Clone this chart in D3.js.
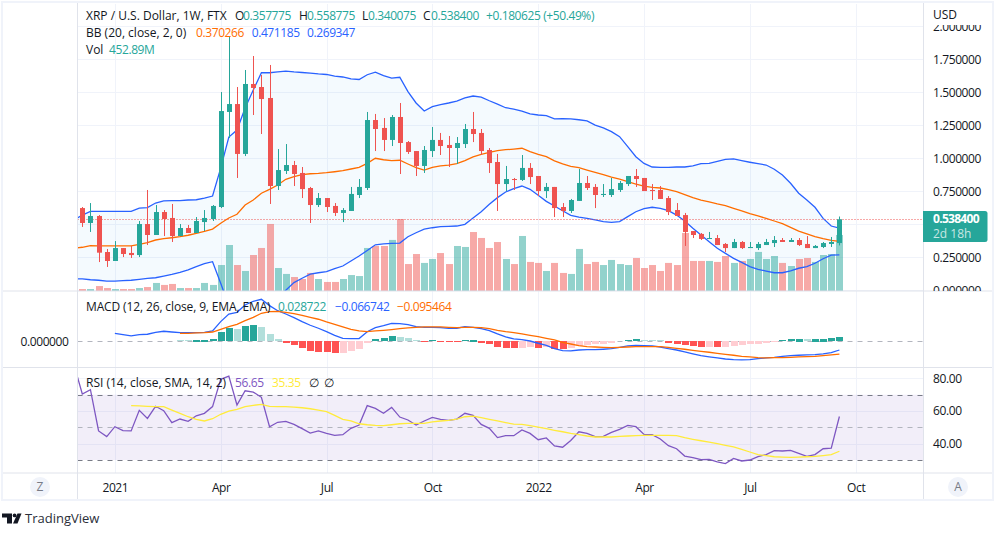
<!DOCTYPE html>
<html>
<head>
<meta charset="utf-8">
<script src="https://cdn.jsdelivr.net/npm/d3@7"></script>
<style>
  html, body { margin: 0; padding: 0; background: #fff; }
  svg { display: block; }
  text { font-family: "Open Sans", sans-serif; font-size: 12px; fill: #131722; }
  .axis path, .axis line { display: none; }
  .axis text { font-family: "Open Sans", sans-serif; font-size: 12px; fill: #131722; letter-spacing: -.4px; }
  .num { letter-spacing: -.4px; }
</style>
</head>
<body>
<div id="chart"></div>
<script>
// weekly candles, index 0 is the first full candle in view
let open = [.623,.510,.563,.290,.222,.320,.283,.267,.502,.419,.593,.548,.411,.472,.434,.517,.540,.631,1.351,1.411,1.033,1.563,1.540,1.457,.790,.904,.949,.889,.775,.646,.699,.639,.586,.601,.722,.775,1.290,1.230,1.139,1.313,1.123,1.055,.942,1.055,1.139,1.101,1.078,1.108,1.222,1.192,1.063,.972,.805,.843,.836,.927,.866,.752,.783,.631,.601,.677,.813,.783,.722,.722,.760,.805,.866,.851,.760,.760,.699,.608,.570,.449,.427,.389,.396,.351,.320,.366,.320,.320,.343,.358,.381,.366,.381,.351,.320,.328,.351,.358];
let high = [.631,.661,.570,.313,.373,.320,.336,.525,.760,.646,.608,.654,.502,.495,.555,.608,.646,1.502,1.926,1.540,1.669,1.775,1.631,1.707,1.070,1.108,.980,.934,.783,.737,.699,.661,.623,.783,.843,1.351,1.336,1.305,1.328,1.419,1.131,1.055,1.093,1.237,1.192,1.169,1.161,1.260,1.351,1.222,1.078,1.033,.942,.851,1.025,.964,.866,.813,.783,.661,.692,.919,.866,.805,.805,.851,.828,.866,.919,.851,.805,.790,.714,.661,.586,.449,.434,.442,.419,.358,.389,.373,.366,.366,.389,.411,.396,.396,.396,.411,.343,.366,.404,.559];
let low = [.480,.442,.214,.177,.222,.252,.245,.252,.343,.419,.411,.366,.411,.434,.434,.449,.525,.623,1.154,.851,1.017,1.328,1.184,.654,.760,.881,.790,.699,.510,.631,.593,.563,.517,.601,.699,.760,1.055,1.055,1.093,.881,1.033,.866,.889,1.010,1.025,.934,.957,1.078,1.123,1.025,.889,.601,.752,.760,.828,.805,.714,.699,.555,.555,.586,.677,.760,.623,.707,.707,.745,.790,.783,.752,.684,.692,.570,.563,.336,.396,.381,.389,.343,.290,.320,.313,.320,.305,.343,.328,.366,.366,.336,.320,.320,.320,.328,.340];
let close = [.510,.563,.285,.222,.320,.275,.267,.502,.419,.593,.540,.411,.472,.434,.525,.548,.639,1.358,1.411,1.033,1.563,1.533,1.449,.790,.911,.949,.881,.767,.646,.699,.631,.586,.608,.730,.783,1.290,1.222,1.139,1.313,1.116,1.048,.942,1.063,1.139,1.093,1.078,1.116,1.222,1.184,1.055,.964,.805,.843,.836,.927,.858,.752,.783,.623,.601,.684,.813,.775,.722,.730,.767,.813,.866,.843,.752,.752,.692,.593,.563,.442,.419,.389,.396,.343,.320,.366,.320,.328,.351,.366,.381,.366,.381,.343,.320,.336,.358,.366,.538];

// volume in millions
let volume = [16,16,40,24,16,16,16,24,32,65,49,57,24,24,24,65,49,210,372,210,162,291,348,542,186,138,113,97,146,97,73,73,97,129,121,348,364,364,413,582,218,299,227,259,307,218,364,356,477,429,348,396,259,218,445,235,227,162,227,146,138,340,218,235,210,251,218,210,267,186,210,162,227,210,469,243,243,243,235,283,227,243,259,316,259,283,227,202,259,267,235,291,299,453];

// bollinger bands, these start one week before the first candle
let bbUpper = [.533,.570,.598,.598,.598,.598,.598,.598,.623,.626,.661,.677,.679,.679,.684,.686,.699,.714,.926,1.161,1.214,1.381,1.517,1.648,1.648,1.654,1.661,1.654,1.650,1.646,1.639,1.635,1.623,1.616,1.601,1.597,1.633,1.652,1.626,1.608,1.614,1.505,1.419,1.358,1.391,1.406,1.419,1.434,1.457,1.472,1.464,1.436,1.411,1.383,1.373,1.358,1.336,1.328,1.323,1.298,1.300,1.298,1.292,1.283,1.252,1.230,1.202,1.164,1.088,1.012,.961,.934,.932,.932,.934,.934,.942,.959,.962,.977,.992,.995,.982,.970,.959,.949,.917,.873,.811,.735,.684,.629,.545,.487,.471];
let bbMiddle = [.318,.326,.338,.336,.336,.336,.336,.336,.348,.361,.381,.391,.398,.406,.417,.432,.447,.464,.508,.548,.576,.646,.684,.735,.765,.798,.841,.861,.876,.883,.886,.891,.898,.906,.919,.932,.962,1.000,.989,.982,.985,.957,.929,.911,.932,.942,.949,.959,.982,1.010,1.030,1.045,1.058,1.065,1.070,1.076,1.050,1.030,1.012,.980,.957,.939,.929,.911,.894,.876,.858,.843,.823,.805,.790,.780,.775,.762,.747,.724,.702,.684,.669,.654,.641,.621,.601,.580,.563,.545,.525,.505,.477,.449,.427,.406,.391,.379,.370];
let bbLower = [.088,.086,.080,.076,.070,.070,.073,.076,.083,.091,.095,.108,.121,.136,.154,.179,.202,.217,.053,-.117,-.160,-.090,-.150,-.178,-.118,-.058,.000,.058,.091,.123,.133,.141,.164,.184,.222,.260,.302,.345,.351,.356,.358,.406,.436,.464,.474,.482,.485,.487,.500,.548,.595,.652,.702,.745,.770,.790,.765,.720,.674,.639,.603,.568,.555,.545,.533,.520,.515,.520,.558,.595,.618,.629,.621,.603,.570,.525,.470,.419,.368,.318,.280,.242,.212,.179,.159,.146,.133,.133,.148,.167,.179,.205,.239,.267,.269];

// macd line starts at candle 4, signal and histogram at candle 12
let macdLine = [.053,.044,.036,.044,.047,.060,.067,.062,.058,.058,.058,.060,.069,.131,.182,.193,.242,.267,.280,.238,.204,.182,.158,.131,.107,.087,.064,.040,.020,.018,.018,.064,.091,.104,.120,.118,.111,.098,.093,.093,.091,.087,.087,.098,.093,.084,.071,.049,.029,.016,.011,.002,-.013,-.027,-.049,-.062,-.064,-.058,-.056,-.056,-.053,-.049,-.040,-.031,-.027,-.029,-.031,-.038,-.049,-.058,-.071,-.084,-.096,-.104,-.111,-.118,-.122,-.124,-.122,-.116,-.111,-.107,-.100,-.096,-.093,-.091,-.089,-.084,-.076,-.058];
let macdSignal = [.053,.053,.056,.058,.062,.080,.098,.113,.138,.160,.187,.198,.200,.193,.184,.173,.160,.147,.129,.113,.096,.080,.069,.064,.069,.073,.078,.084,.089,.093,.096,.096,.096,.093,.091,.093,.093,.091,.084,.073,.064,.058,.049,.040,.031,.020,.009,-.007,-.018,-.029,-.036,-.038,-.040,-.042,-.040,-.038,-.036,-.036,-.036,-.036,-.040,-.047,-.053,-.060,-.067,-.073,-.080,-.087,-.093,-.100,-.104,-.109,-.111,-.109,-.109,-.107,-.104,-.102,-.100,-.096,-.091,-.085];
let macdHist = [.009,.008,.010,.011,.016,.062,.089,.082,.102,.109,.096,.049,.016,-.011,-.024,-.044,-.064,-.071,-.072,-.078,-.077,-.064,-.051,-.011,.016,.022,.036,.029,.022,.009,-.004,.006,-.004,-.0045,-.005,.009,.010,-.011,-.018,-.038,-.044,-.045,-.044,-.038,-.044,-.043,-.051,-.052,-.044,-.031,-.024,-.023,-.018,-.011,.000,.009,.016,.009,.008,.007,-.011,-.018,-.024,-.031,-.038,-.037,-.038,-.037,-.031,-.024,-.023,-.018,-.011,-.004,.009,.016,.017,.016,.017,.018,.022,.029];

// rsi starts one week before the first candle, its average at candle 6
let rsi = [88.0,70.4,73.1,47.8,44.3,50.4,48.0,47.8,60.4,55.5,62.9,60.2,52.9,55.1,53.7,57.1,58.6,62.7,79.4,81.4,63.7,72.4,71.6,68.4,50.4,53.1,53.7,51.8,49.2,46.5,47.8,46.3,45.1,45.5,49.4,51.4,63.3,61.6,58.6,62.2,56.3,54.5,51.4,53.9,56.1,54.9,54.3,55.1,58.6,57.3,51.8,49.4,43.7,44.9,44.9,48.4,46.3,42.4,43.5,38.6,37.8,42.0,47.3,46.3,44.3,44.5,46.9,48.8,51.2,50.4,45.7,45.5,42.9,38.8,36.9,32.4,31.4,30.2,30.4,28.8,27.8,31.0,29.4,30.0,32.0,33.3,35.7,35.5,35.9,34.1,32.2,33.3,36.9,37.3,56.65];
let rsiMa = [63.3,63.1,62.9,62.7,62.7,60.6,58.6,56.5,54.9,53.9,55.3,58.0,60.0,61.0,62.7,63.5,64.1,62.9,62.7,62.7,62.4,62.0,61.4,60.6,59.6,57.3,54.9,53.9,52.2,51.6,51.2,51.0,51.6,52.2,52.4,52.4,52.4,53.3,53.9,54.3,55.1,56.5,56.9,55.9,54.9,53.9,52.9,52.0,51.8,51.0,50.2,49.2,48.2,47.3,46.3,45.5,44.7,44.1,44.1,44.1,44.5,44.7,44.9,45.1,45.1,45.1,45.1,44.9,43.7,42.7,41.8,41.0,40.0,39.0,38.0,36.5,34.9,33.3,32.7,32.0,31.8,31.6,31.8,32.0,32.2,32.7,33.3,35.35];

// axis ticks
let timeTicks = [4, 17, 30, 43, 56, 69, 82, 95];
let timeLabels = ['2021', 'Apr', 'Jul', 'Oct', '2022', 'Apr', 'Jul', 'Oct'];
let priceTicks = [0, .25, .5, .75, 1, 1.25, 1.5, 1.75, 2];
let priceLabelTicks = [0, .25, .75, 1, 1.25, 1.5, 1.75, 2];
let rsiTicks = [40, 60, 80];
let rsiGuides = [30, 50, 70];
let lastPrice = .5384;

let teal = '#26a69a', red = '#ef5350', blue = '#2962ff', orange = '#ff6d00';
let purple = '#7e57c2', yellow = '#ffeb3b', gridColor = '#f0f3fa', lineColor = '#e0e3eb';

let config = {
    left: 77.5, right: 923, axisRight: 993,
    main: { top: 4, bottom: 291 },
    macd: { top: 291, bottom: 367.5 },
    rsi: { top: 367.5, bottom: 473 }
};

let svg = d3.select('#chart').append('svg')
    .attr('width', 1003)
    .attr('height', 536);

// scales
let x = d3.scaleLinear().domain([0, 93]).range([82.3, 839.4]);
let yPrice = d3.scaleLinear().domain([0, 1.75]).range([290.3, 59.3]);
let yVol = d3.scaleLinear().domain([0, 452.89]).range([291, 235]);
let yMacd = d3.scaleLinear().domain([0, .28]).range([341.3, 299.3]);
let yRsi = d3.scaleLinear().domain([30, 70]).range([460, 394.7]);

let panes = [['main', config.main], ['macd', config.macd], ['rsi', config.rsi]];
let defs = svg.append('defs');
panes.forEach(([name, p]) => {
    defs.append('clipPath').attr('id', 'clip-' + name)
        .append('rect')
        .attr('x', config.left)
        .attr('y', p.top)
        .attr('width', config.right - config.left)
        .attr('height', p.bottom - p.top);
});
defs.append('clipPath').attr('id', 'clip-price')
    .append('rect')
    .attr('x', config.right)
    .attr('y', 25)
    .attr('width', 70)
    .attr('height', 266);

// vertical grid through all panes
svg.append('g').selectAll('line')
    .data(timeTicks)
    .enter().append('line')
    .attr('x1', (d) => Math.round(x(d)) + .5)
    .attr('x2', (d) => Math.round(x(d)) + .5)
    .attr('y1', config.main.top)
    .attr('y2', config.rsi.bottom)
    .attr('stroke', gridColor);

function hGrid(values, scale) {
    svg.append('g').selectAll('line')
        .data(values)
        .enter().append('line')
        .attr('x1', config.left)
        .attr('x2', config.right)
        .attr('y1', (d) => Math.round(scale(d)) + .5)
        .attr('y2', (d) => Math.round(scale(d)) + .5)
        .attr('stroke', gridColor);
}
hGrid(priceTicks, yPrice);
hGrid(rsiTicks, yRsi);

// main pane
let mainPane = svg.append('g').attr('clip-path', 'url(#clip-main)');

let bandArea = d3.area()
    .x((d, i) => x(i - 1))
    .y0((d, i) => yPrice(bbLower[i]))
    .y1((d) => yPrice(d));
mainPane.append('path')
    .attr('d', bandArea(bbUpper))
    .attr('fill', '#2196f3')
    .attr('fill-opacity', .05);

mainPane.selectAll('.vol')
    .data(volume)
    .enter().append('rect')
    .attr('class', 'vol')
    .attr('x', (d, i) => Math.round(x(i)) - 3)
    .attr('y', (d) => yVol(d))
    .attr('width', 7)
    .attr('height', (d) => yVol(0) - yVol(d))
    .attr('fill', (d, i) => close[i] >= open[i] ? teal : red)
    .attr('fill-opacity', .5);

let bandLine = d3.line()
    .x((d, i) => x(i - 1))
    .y((d) => yPrice(d));
[[bbUpper, blue], [bbLower, blue], [bbMiddle, orange]].forEach(([values, color]) => {
    mainPane.append('path')
        .attr('d', bandLine(values))
        .attr('fill', 'none')
        .attr('stroke', color)
        .attr('stroke-width', 1.3);
});

// last price line
mainPane.append('line')
    .attr('x1', config.left)
    .attr('x2', config.right)
    .attr('y1', Math.round(yPrice(lastPrice)) + .5)
    .attr('y2', Math.round(yPrice(lastPrice)) + .5)
    .attr('stroke', red)
    .attr('stroke-dasharray', '1 2');

// candles
let candles = mainPane.selectAll('.candle')
    .data(open)
    .enter().append('g')
    .attr('class', 'candle')
    .attr('fill', (d, i) => close[i] >= open[i] ? teal : red);
candles.append('rect')
    .attr('x', (d, i) => Math.round(x(i)))
    .attr('y', (d, i) => yPrice(high[i]))
    .attr('width', 1)
    .attr('height', (d, i) => yPrice(low[i]) - yPrice(high[i]));
candles.append('rect')
    .attr('x', (d, i) => Math.round(x(i)) - 2)
    .attr('y', (d, i) => yPrice(Math.max(open[i], close[i])))
    .attr('width', 5)
    .attr('height', (d, i) => Math.max(1, Math.abs(yPrice(open[i]) - yPrice(close[i]))));

// macd pane
let macdPane = svg.append('g').attr('clip-path', 'url(#clip-macd)');

macdPane.append('line')
    .attr('x1', config.left)
    .attr('x2', config.right)
    .attr('y1', Math.round(yMacd(0)) + .5)
    .attr('y2', Math.round(yMacd(0)) + .5)
    .attr('stroke', '#b2b5be')
    .attr('stroke-dasharray', '5 5');

function histColor(d, i) {
    let rising = i > 0 && macdHist[i - 1] < d;
    if (d >= 0) return rising ? teal : '#b2dfdb';
    return rising ? '#ffcdd2' : '#ff5252';
}
macdPane.selectAll('.hist')
    .data(macdHist)
    .enter().append('rect')
    .attr('class', 'hist')
    .attr('x', (d, i) => Math.round(x(i + 12)) - 3)
    .attr('y', (d) => Math.round(Math.min(yMacd(d), yMacd(0))))
    .attr('width', 7)
    .attr('height', (d) => Math.round(Math.abs(yMacd(d) - yMacd(0))))
    .attr('fill', histColor);

let macdPath = (start) => d3.line().x((d, i) => x(i + start)).y((d) => yMacd(d));
macdPane.append('path')
    .attr('d', macdPath(4)(macdLine))
    .attr('fill', 'none')
    .attr('stroke', blue)
    .attr('stroke-width', 1.3);
macdPane.append('path')
    .attr('d', macdPath(12)(macdSignal))
    .attr('fill', 'none')
    .attr('stroke', orange)
    .attr('stroke-width', 1.3);

// rsi pane
let rsiPane = svg.append('g').attr('clip-path', 'url(#clip-rsi)');

rsiPane.append('rect')
    .attr('x', config.left)
    .attr('y', yRsi(70))
    .attr('width', config.right - config.left)
    .attr('height', yRsi(30) - yRsi(70))
    .attr('fill', purple)
    .attr('fill-opacity', .1);

rsiPane.selectAll('.guide')
    .data(rsiGuides)
    .enter().append('line')
    .attr('class', 'guide')
    .attr('x1', config.left)
    .attr('x2', config.right)
    .attr('y1', (d) => Math.round(yRsi(d)) + .5)
    .attr('y2', (d) => Math.round(yRsi(d)) + .5)
    .attr('stroke', (d) => d === 50 ? '#b2b5be' : '#787b86')
    .attr('stroke-dasharray', '5 5');

let rsiPath = (start) => d3.line().x((d, i) => x(i + start)).y((d) => yRsi(d));
rsiPane.append('path')
    .attr('d', rsiPath(-1)(rsi))
    .attr('fill', 'none')
    .attr('stroke', purple)
    .attr('stroke-width', 1.3);
rsiPane.append('path')
    .attr('d', rsiPath(6)(rsiMa))
    .attr('fill', 'none')
    .attr('stroke', yellow)
    .attr('stroke-width', 1.3);

// frame and separators
let frame = svg.append('g').attr('fill', 'none');
frame.append('rect')
    .attr('x', 2).attr('y', 2)
    .attr('width', 991).attr('height', 498)
    .attr('stroke', gridColor)
    .attr('stroke-width', 2);
[config.main.bottom, config.macd.bottom, config.rsi.bottom].forEach((y) => {
    frame.append('line')
        .attr('x1', 3).attr('x2', config.axisRight - 1)
        .attr('y1', y).attr('y2', y)
        .attr('stroke', lineColor);
});
[config.left, config.right + .5].forEach((lx) => {
    frame.append('line')
        .attr('x1', lx).attr('x2', lx)
        .attr('y1', 3).attr('y2', 499)
        .attr('stroke', lineColor);
});

// axes
svg.append('g')
    .attr('class', 'axis')
    .attr('transform', translate(0, 483))
    .call(d3.axisBottom(x)
        .tickValues(timeTicks)
        .tickSize(0)
        .tickPadding(0)
        .tickFormat((d, i) => timeLabels[i]));

svg.append('g')
    .attr('clip-path', 'url(#clip-price)')
    .append('g')
    .attr('class', 'axis')
    .attr('transform', translate(config.right, 0))
    .call(d3.axisRight(yPrice)
        .tickValues(priceLabelTicks)
        .tickSize(0)
        .tickPadding(10)
        .tickFormat(d3.format('.6f')));

svg.append('g')
    .attr('class', 'axis')
    .attr('transform', translate(config.right, 0))
    .call(d3.axisRight(yRsi)
        .tickValues(rsiTicks)
        .tickSize(0)
        .tickPadding(10)
        .tickFormat(d3.format('.2f')));

svg.append('g')
    .attr('class', 'axis')
    .attr('transform', translate(config.left, 0))
    .call(d3.axisLeft(yMacd)
        .tickValues([0])
        .tickSize(0)
        .tickPadding(9)
        .tickFormat(d3.format('.6f')));

addText('USD', 933, 19);

// last price tag
svg.append('path')
    .attr('d', 'M923 211h62a2.5 2.5 0 0 1 2.5 2.5v26a2.5 2.5 0 0 1 -2.5 2.5h-62z')
    .attr('fill', teal);
addText(d3.format('.6f')(lastPrice), 933, 223, '#fff', true).style('font-weight', 700).style('letter-spacing', '-.7px');
addText('2d 18h', 933, 238, 'rgba(255,255,255,.75)');

// legends
let legendColor = '#131722';
addText('XRP / U.S. Dollar, 1W, FTX', 86, 20, legendColor);
[['O', '0.357775', 235], ['H', '0.558775', 299], ['L', '0.340075', 362], ['C', '0.538400', 423]].forEach(([k, v, lx]) => {
    addText(k, lx, 20, legendColor);
    addText(v, lx + (k === 'L' ? 6 : 8), 20, teal, true);
});
addText('+0.180625 (+50.49%)', 486, 20, teal, true);

addText('BB (20, close, 2, 0)', 86, 37, legendColor);
addText('0.370266', 196, 37, orange, true);
addText('0.471185', 251.7, 37, blue, true);
addText('0.269347', 307, 37, blue, true);

addText('Vol', 86, 54, legendColor);
addText('452.89M', 109, 54, teal, true);

addText('MACD (12, 26, close, 9, EMA, EMA)', 86, 311, legendColor).style('letter-spacing', '-.13px');
addText('0.028722', 278, 311, teal, true);
addText('\u22120.066742', 335, 311, blue, true);
addText('\u22120.095464', 397, 311, orange, true);

addText('RSI (14, close, SMA, 14, 2)', 86, 387, legendColor);
addText('56.65', 235, 387, purple, true);
addText('35.35', 272, 387, yellow, true);
addText('\u2205', 309, 387, legendColor);
addText('\u2205', 324, 387, legendColor);

// round buttons
[['Z', 40], ['A', 958]].forEach(([label, cx]) => {
    svg.append('circle')
        .attr('cx', cx).attr('cy', 487).attr('r', 10)
        .attr('fill', gridColor);
    addText(label, cx, 491, '#787b86').attr('text-anchor', 'middle');
});

// tradingview mark
let logo = svg.append('g').attr('fill', '#131722');
logo.append('path').attr('d', 'M2 513.5h10v10h-5v-6h-5z');
logo.append('circle').attr('cx', 14.6).attr('cy', 515.4).attr('r', 1.9);
logo.append('path').attr('d', 'M17.5 513.5h4l-4 10h-4.5z');
addText('TradingView', 25, 523, '#2a2e39').style('font-size', '13px');

function addText(str, tx, ty, color, isNumber) {
    return svg.append('text')
        .attr('class', isNumber ? 'num' : null)
        .attr('x', tx)
        .attr('y', ty)
        .style('fill', color || '#131722')
        .text(str);
}

// helper method to make translating easier
function translate(tx, ty) {
    return 'translate(' + tx + ',' + ty + ')';
}
</script>
</body>
</html>
